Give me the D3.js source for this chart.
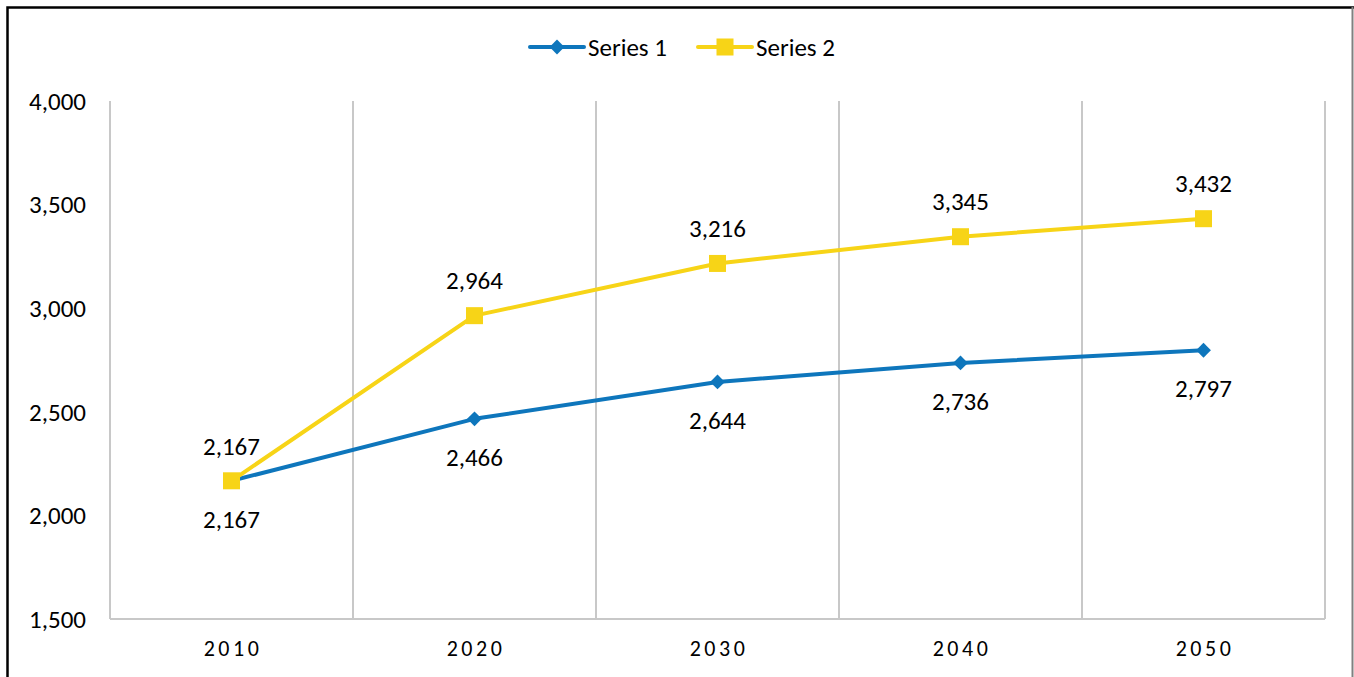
<!DOCTYPE html>
<html><head><meta charset="utf-8">
<script src="https://cdn.jsdelivr.net/npm/d3@7"></script>
<style>body{margin:0;background:#fff;overflow:hidden}svg{display:block}</style>
</head><body>
<script>
const categories = ["2010","2020","2030","2040","2050"];
const series1 = [2167, 2466, 2644, 2736, 2797];
const series2 = [2167, 2964, 3216, 3345, 3432];
const seriesNames = ["Series 1","Series 2"];
const yTicks = [1500, 2000, 2500, 3000, 3500, 4000];

(function(){
const W = 1354, H = 677;
const svg = d3.select("body").append("svg").attr("width", W).attr("height", H);
const font = "Carlito, 'Liberation Sans', Arial, sans-serif";

// outer frame
svg.append("rect").attr("x", 7.5).attr("y", 7.5).attr("width", 1360).attr("height", 700)
  .attr("fill", "none").attr("stroke", "#000").attr("stroke-width", 2.5);
svg.append("line").attr("x1", 1352.5).attr("x2", 1352.5).attr("y1", 7).attr("y2", H)
  .attr("stroke", "#808080").attr("stroke-width", 2);

const pLeft = 110, pRight = 1325, pTop = 101, pBottom = 619;
const x = d3.scaleBand().domain(categories).range([pLeft, pRight]);
const y = d3.scaleLinear().domain([1500, 4000]).range([pBottom, pTop]);

// vertical gridlines at category boundaries
const bounds = categories.map(c => x(c)).concat([pRight]);
svg.append("g").selectAll("line").data(bounds).join("line")
  .attr("x1", d => d).attr("x2", d => d).attr("y1", pTop).attr("y2", pBottom)
  .attr("stroke", "#c8c8c8").attr("stroke-width", 2);
svg.append("line").attr("x1", pLeft).attr("x2", pRight).attr("y1", pBottom).attr("y2", pBottom)
  .attr("stroke", "#c8c8c8").attr("stroke-width", 2);

// y axis labels
svg.append("g").selectAll("text").data(yTicks).join("text")
  .attr("x", 86).attr("y", d => y(d)).attr("dy", "0.35em")
  .attr("text-anchor", "end").attr("font-family", font).attr("font-size", 25).attr("fill", "#000")
  .text(d => d3.format(",")(d));

// x axis labels
svg.append("g").selectAll("text").data(categories).join("text")
  .attr("x", d => x(d) + x.bandwidth() / 2 + 1.5).attr("y", 656)
  .attr("text-anchor", "middle").attr("font-family", font).attr("font-size", 22)
  .attr("letter-spacing", "3.5px").attr("fill", "#000")
  .text(d => d);

const cx = c => x(c) + x.bandwidth() / 2;
const colors = ["#0E76BC", "#F7D417"];
const line = d3.line().x((d, i) => cx(categories[i])).y(d => y(d));

[series1, series2].forEach((s, k) => {
  svg.append("path").datum(s).attr("d", line).attr("fill", "none")
    .attr("stroke", colors[k]).attr("stroke-width", 4).attr("stroke-linejoin", "round");
});
svg.append("g").selectAll("path").data(series1).join("path")
  .attr("d", d3.symbol(d3.symbolDiamond2, 140)())
  .attr("transform", (d, i) => `translate(${cx(categories[i])},${y(d)})`)
  .attr("fill", colors[0]);
svg.append("g").selectAll("rect").data(series2).join("rect")
  .attr("x", (d, i) => cx(categories[i]) - 8.5).attr("y", d => y(d) - 8.5)
  .attr("width", 17).attr("height", 17).attr("fill", colors[1]);

// data labels
svg.append("g").selectAll("text").data(series1).join("text")
  .attr("x", (d, i) => cx(categories[i])).attr("y", d => y(d) + 38).attr("dy", "0.35em")
  .attr("text-anchor", "middle").attr("font-family", font).attr("font-size", 25).attr("fill", "#000")
  .text(d => d3.format(",")(d));
svg.append("g").selectAll("text").data(series2).join("text")
  .attr("x", (d, i) => cx(categories[i])).attr("y", d => y(d) - 35).attr("dy", "0.35em")
  .attr("text-anchor", "middle").attr("font-family", font).attr("font-size", 25).attr("fill", "#000")
  .text(d => d3.format(",")(d));

// legend
const legend = [
  {name: seriesNames[0], x0: 530, color: colors[0], marker: "diamond"},
  {name: seriesNames[1], x0: 698, color: colors[1], marker: "square"}
];
const ly = 47;
legend.forEach(l => {
  const g = svg.append("g");
  g.append("line").attr("x1", l.x0).attr("x2", l.x0 + 54).attr("y1", ly).attr("y2", ly)
    .attr("stroke", l.color).attr("stroke-width", 4).attr("stroke-linecap", "round");
  if (l.marker === "diamond") {
    g.append("path").attr("d", d3.symbol(d3.symbolDiamond2, 140)())
      .attr("transform", `translate(${l.x0 + 27},${ly})`).attr("fill", l.color);
  } else {
    g.append("rect").attr("x", l.x0 + 27 - 8.5).attr("y", ly - 8.5).attr("width", 17).attr("height", 17)
      .attr("fill", l.color);
  }
  g.append("text").attr("x", l.x0 + 58).attr("y", ly).attr("dy", "0.35em")
    .attr("font-family", font).attr("font-size", 25).attr("fill", "#000").text(l.name);
});
})();
</script>
</body></html>
